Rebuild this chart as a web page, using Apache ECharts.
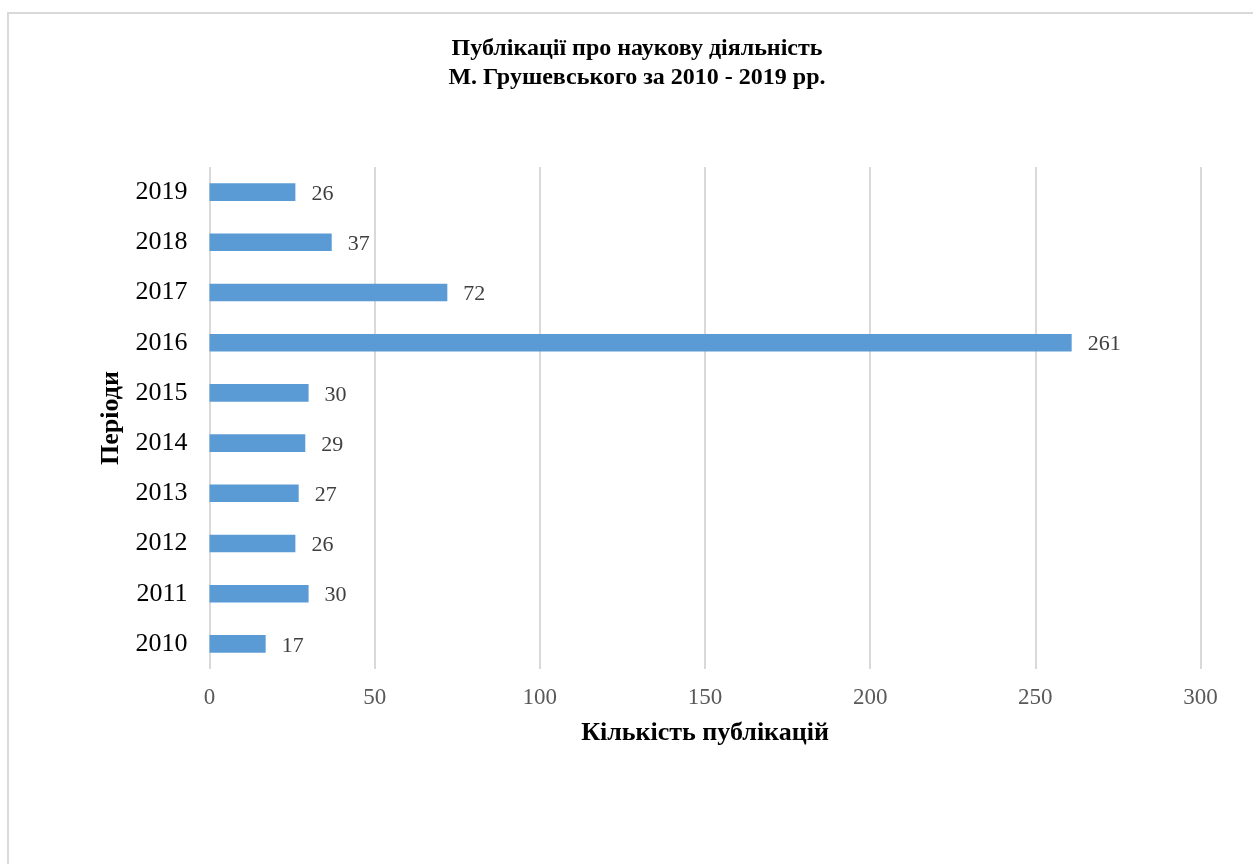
<!DOCTYPE html>
<html>
<head>
<meta charset="utf-8">
<script src="https://cdn.jsdelivr.net/npm/echarts@6/dist/echarts.min.js"></script>
<style>
html,body{margin:0;padding:0;background:#fff;}
#chart{width:1253px;height:864px;}
</style>
</head>
<body>
<div id="chart"></div>
<script>
const years = ['2010','2011','2012','2013','2014','2015','2016','2017','2018','2019'];
const counts = [17, 30, 26, 27, 29, 30, 261, 72, 37, 26];
const xTicks = { min: 0, max: 300, interval: 50 };
const titleText = 'Публікації про наукову діяльність\nМ. Грушевського за 2010 - 2019 рр.';
const xName = 'Кількість публікацій';
const yName = 'Періоди';

const serif = '"Liberation Serif", "Times New Roman", serif';
const chart = echarts.init(document.getElementById('chart'));
chart.setOption({
  backgroundColor: '#ffffff',
  animation: false,
  graphic: [{
    type: 'rect',
    shape: { x: 8, y: 13, width: 1300, height: 900 },
    style: { fill: 'none', stroke: '#d9d9d9', lineWidth: 2 },
    silent: true
  }],
  title: {
    text: titleText,
    left: 637,
    top: 34,
    textAlign: 'center',
    padding: 0,
    textStyle: { fontFamily: serif, fontWeight: 'bold', fontSize: 24, color: '#000', lineHeight: 29 }
  },
  grid: { left: 209.5, right: 52.5, top: 167, bottom: 195, containLabel: false },
  xAxis: {
    type: 'value',
    min: xTicks.min, max: xTicks.max, interval: xTicks.interval,
    name: xName,
    nameLocation: 'middle',
    nameGap: 51,
    nameTextStyle: { fontFamily: serif, fontWeight: 'bold', fontSize: 26, color: '#000' },
    axisLine: { show: false },
    axisTick: { show: false },
    axisLabel: { fontFamily: serif, fontSize: 23, color: '#595959', margin: 17 },
    splitLine: { show: true, lineStyle: { color: '#d9d9d9', width: 2 } }
  },
  yAxis: {
    type: 'category',
    data: years,
    name: yName,
    nameLocation: 'middle',
    nameGap: 83,
    nameRotate: 90,
    nameTextStyle: { fontFamily: serif, fontWeight: 'bold', fontSize: 26, color: '#000' },
    axisLine: { show: false },
    axisTick: { show: false },
    axisLabel: { fontFamily: serif, fontSize: 26, color: '#000', margin: 22 },
    splitLine: { show: false }
  },
  series: [{
    type: 'bar',
    data: counts,
    barCategoryGap: '65%',
    itemStyle: { color: '#5b9bd5' },
    label: {
      show: true,
      position: 'right',
      distance: 16,
      fontFamily: serif,
      fontSize: 22,
      color: '#404040',
      offset: [0, 2]
    }
  }]
});
</script>
</body>
</html>
